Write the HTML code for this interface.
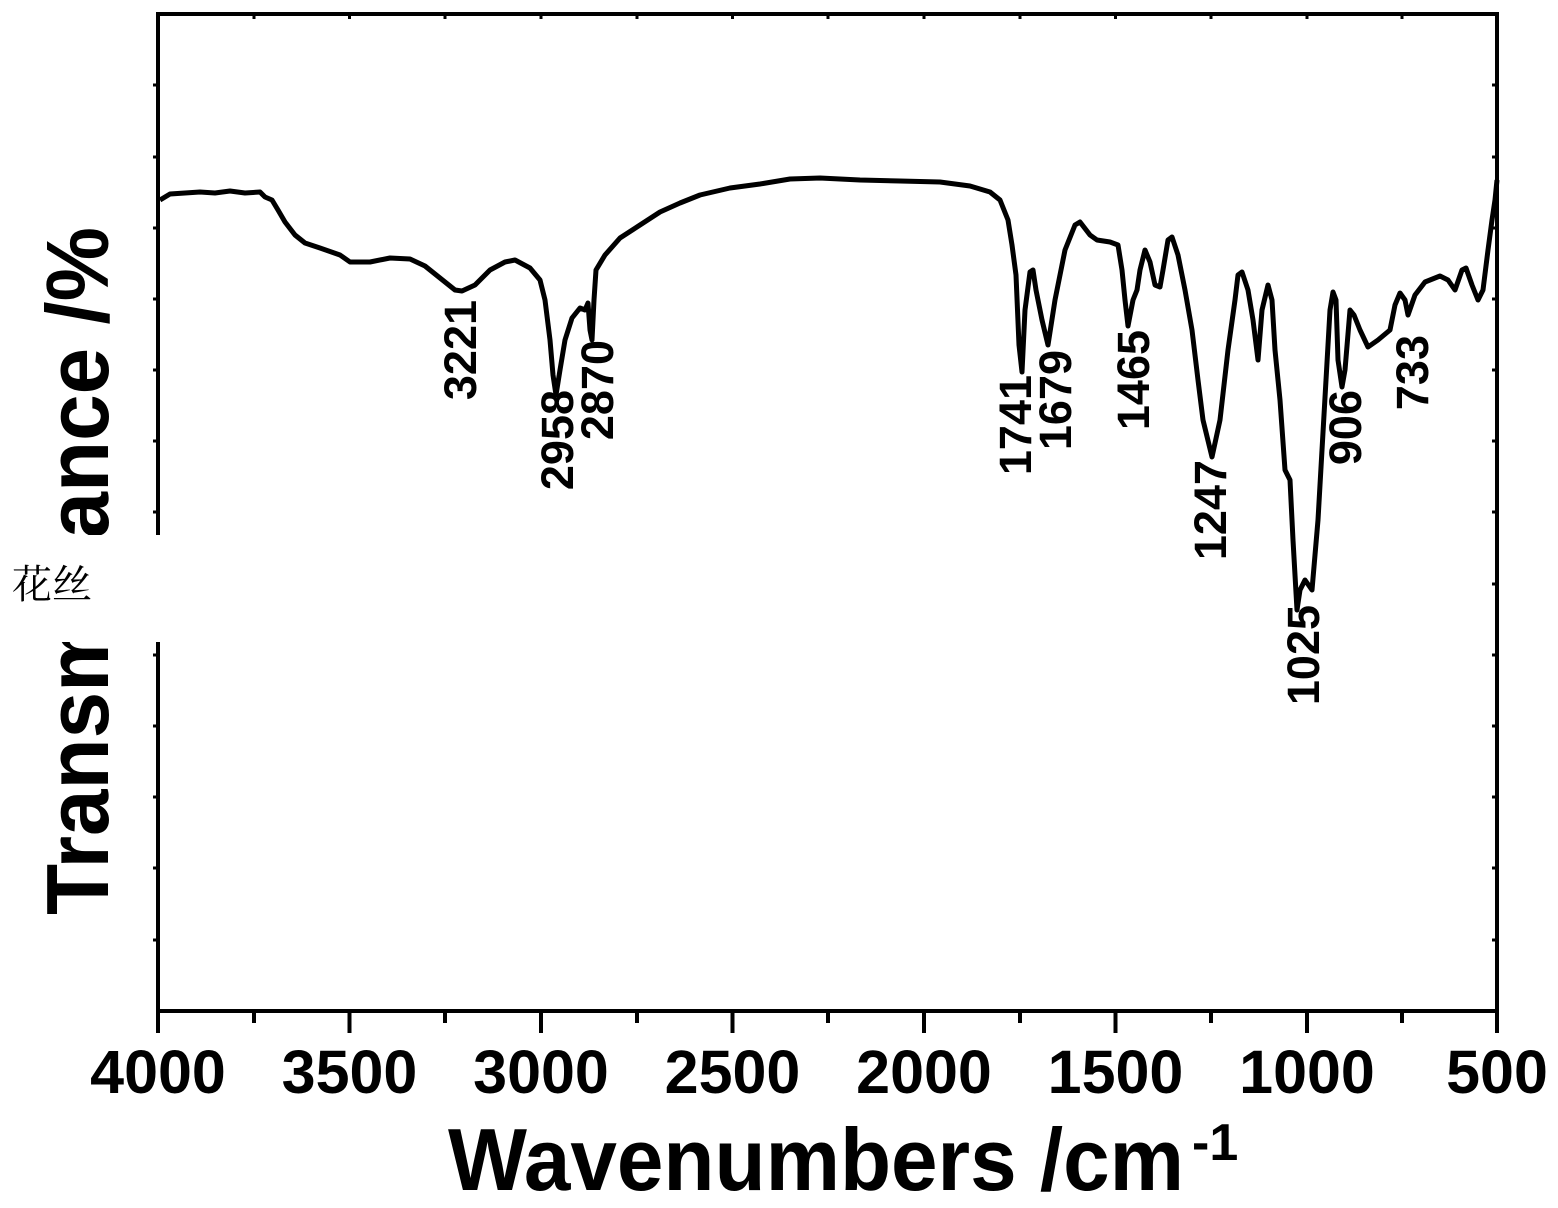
<!DOCTYPE html>
<html><head><meta charset="utf-8"><style>html,body{margin:0;padding:0;background:#fff}svg{display:block}</style></head>
<body>
<svg width="1558" height="1208" viewBox="0 0 1558 1208" xmlns="http://www.w3.org/2000/svg" font-family="Liberation Sans, Arial, sans-serif">
<rect width="1558" height="1208" fill="#fff"/>
<g stroke="#000" stroke-width="4" fill="none">
<rect x="158" y="14" width="1339" height="997"/>
<path d="M158 1011V1033M349.5 1011V1033M541 1011V1033M732.5 1011V1033M924 1011V1033M1115.5 1011V1033M1307 1011V1033M1497 1011V1033"/>
<path d="M254 1011V1023M445 1011V1023M637 1011V1023M828 1011V1023M1020 1011V1023M1211 1011V1023M1402 1011V1023"/>
<path d="M254 14V19M349.5 14V19M445 14V19M541 14V19M637 14V19M732.5 14V19M828 14V19M924 14V19M1020 14V19M1115.5 14V19M1211 14V19M1307 14V19M1402 14V19" stroke-width="3"/>
<path d="M153 85H158M153 157H158M153 228H158M153 299H158M153 370H158M153 441H158M153 512H158M153 584H158M153 655H158M153 726H158M153 797H158M153 868H158M153 940H158" stroke-width="3"/>
<path d="M1492 85H1497M1492 157H1497M1492 228H1497M1492 299H1497M1492 370H1497M1492 441H1497M1492 512H1497M1492 584H1497M1492 655H1497M1492 726H1497M1492 797H1497M1492 868H1497M1492 940H1497" stroke-width="3"/>
</g>
<polyline fill="none" stroke="#000" stroke-width="5" stroke-linejoin="round" points="160,200 170,194 185,193 200,192 215,193 230,191 245,193 260,192 265,197 272,200 278,210 285,222 295,235 305,243 320,248 340,255 350,262 370,262 390,258 410,259 425,266 440,278 455,290 462,291 475,285 490,270 505,262 515,260 530,268 540,280 545,300 550,340 553,375 556,395 560,370 565,340 572,318 580,308 585,310 588,303 590,330 592,340 594,300 596,270 605,255 620,238 640,225 660,212 680,203 700,195 730,188 760,184 790,179 820,178 860,180 900,181 940,182 970,186 990,192 1000,200 1008,220 1012,245 1016,275 1019,345 1022,372 1025,310 1030,272 1033,270 1036,290 1042,320 1048,345 1055,300 1065,250 1075,225 1080,222 1090,235 1097,240 1110,242 1118,245 1122,270 1125,300 1128,326 1133,300 1137,290 1140,270 1145,250 1150,262 1155,285 1160,287 1163,270 1168,240 1172,237 1178,255 1185,290 1192,330 1198,380 1203,420 1212,457 1220,420 1228,350 1235,300 1238,275 1242,272 1248,290 1253,320 1258,360 1262,310 1268,285 1272,300 1275,350 1280,400 1285,470 1290,480 1293,540 1297,610 1300,590 1305,580 1312,590 1318,520 1322,450 1326,380 1330,310 1333,292 1336,300 1338,360 1342,387 1345,370 1350,310 1354,315 1360,330 1368,347 1378,340 1390,330 1395,305 1400,293 1405,300 1408,315 1415,295 1425,282 1440,276 1448,280 1455,290 1462,270 1466,268 1472,285 1478,300 1483,290 1488,250 1492,220 1495,200 1497,180"/>
<g font-weight="bold" font-size="61" text-anchor="middle" fill="#000">
<text x="158" y="1093">4000</text><text x="349.5" y="1093">3500</text><text x="541" y="1093">3000</text><text x="732.5" y="1093">2500</text><text x="924" y="1093">2000</text><text x="1115.5" y="1093">1500</text><text x="1307" y="1093">1000</text><text x="1497" y="1093">500</text>
</g>
<text x="448" y="1190" font-weight="bold" font-size="88" textLength="736" lengthAdjust="spacingAndGlyphs">Wavenumbers /cm</text>
<text x="1192" y="1160" font-weight="bold" font-size="52">-1</text>
<text transform="translate(108,915) rotate(-90)" font-weight="bold" font-size="88" textLength="688" lengthAdjust="spacingAndGlyphs">Transmittance /%</text>
<g font-weight="bold" font-size="45" text-anchor="end" fill="#000">
<text transform="translate(476,300) rotate(-90)">3221</text>
<text transform="translate(573,390) rotate(-90)">2958</text>
<text transform="translate(613,340) rotate(-90)">2870</text>
<text transform="translate(1031,375) rotate(-90)">1741</text>
<text transform="translate(1071,350) rotate(-90)">1679</text>
<text transform="translate(1149,330) rotate(-90)">1465</text>
<text transform="translate(1226,460) rotate(-90)">1247</text>
<text transform="translate(1319,605) rotate(-90)">1025</text>
<text transform="translate(1361,390) rotate(-90)">906</text>
<text transform="translate(1428,335) rotate(-90)">733</text>
</g>
<rect x="0" y="535" width="163" height="107" fill="#fff"/>
<text x="12" y="598" font-size="40" font-family="Noto Serif CJK SC, Noto Sans CJK SC, serif">花丝</text>
</svg>
</body></html>
